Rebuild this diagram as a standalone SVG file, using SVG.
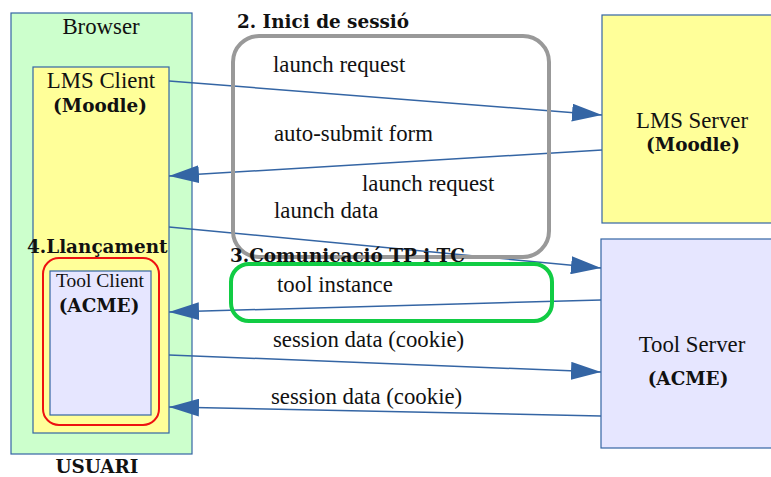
<svg xmlns="http://www.w3.org/2000/svg" width="771" height="477" viewBox="0 0 771 477">
<style>
.box{stroke:#3465a4;stroke-width:1.2}
.reg{font-family:"Liberation Serif",serif;font-size:22.8px;fill:#111}
.small{font-family:"Liberation Serif",serif;font-size:19.5px;fill:#111}
.bold{font-family:"DejaVu Serif",serif;font-weight:bold;font-size:18.4px;fill:#111}
.conn{stroke:#3465a4;stroke-width:1.5;fill:none;marker-end:url(#ah)}
</style>
<defs>
<marker id="ah" markerUnits="userSpaceOnUse" markerWidth="30" markerHeight="18" refX="30" refY="9" orient="auto">
<path d="M0,0 L30,9 L0,18 z" fill="#3465a4"/>
</marker>
</defs>
<rect width="771" height="477" fill="#ffffff"/>
<g id="browser">
<rect class="box" x="11" y="13" width="181" height="441" fill="#ccffcc"/>
<text class="reg" x="101" y="34" text-anchor="middle">Browser</text>
<text class="bold" x="97" y="473" text-anchor="middle">USUARI</text>
</g>
<g id="lms-client">
<rect class="box" x="33" y="67" width="136" height="366" fill="#ffff99"/>
<text class="reg" x="101" y="88" text-anchor="middle">LMS Client</text>
<text class="bold" x="100" y="112" text-anchor="middle">(Moodle)</text>
</g>
<g id="tool-client">
<rect class="box" x="50" y="271" width="101" height="144" fill="#e6e6ff"/>
<text class="small" x="100" y="287" text-anchor="middle">Tool Client</text>
<text class="bold" x="99" y="312" text-anchor="middle">(ACME)</text>
</g>
<g id="launch-group">
<rect x="43" y="258" width="116" height="167" rx="16" fill="none" stroke="#ee1111" stroke-width="2"/>
<text class="bold" x="27" y="253">4.Llançament</text>
</g>
<g id="lms-server">
<rect class="box" x="602" y="15" width="175" height="208" fill="#ffff99"/>
<text class="reg" x="692" y="128" text-anchor="middle">LMS Server</text>
<text class="bold" x="693" y="151" text-anchor="middle">(Moodle)</text>
</g>
<g id="tool-server">
<rect class="box" x="601" y="239" width="176" height="209" fill="#e6e6ff"/>
<text class="reg" x="692" y="352" text-anchor="middle">Tool Server</text>
<text class="bold" x="688" y="385" text-anchor="middle">(ACME)</text>
</g>
<g id="connectors">
<line class="conn" x1="169" y1="81" x2="602" y2="115"/>
<line class="conn" x1="602" y1="150" x2="169" y2="176"/>
<line class="conn" x1="169" y1="227" x2="601" y2="268"/>
<line class="conn" x1="601" y1="300" x2="169" y2="312"/>
<line class="conn" x1="169" y1="355" x2="601" y2="372"/>
<line class="conn" x1="601" y1="416" x2="169" y2="407"/>
</g>
<g id="session-start">
<rect x="233" y="36" width="316" height="221" rx="26" fill="none" stroke="#999999" stroke-width="4"/>
<text class="bold" x="237" y="28">2. Inici de sessió</text>
</g>
<g id="tp-tc">
<rect x="231" y="264" width="321" height="57" rx="18" fill="none" stroke="#11cc44" stroke-width="4"/>
<text class="bold" x="230" y="262">3.Comunicació TP i TC</text>
</g>
<g id="labels">
<text class="reg" x="273" y="72">launch request</text>
<text class="reg" x="274" y="141">auto-submit form</text>
<text class="reg" x="362" y="191">launch request</text>
<text class="reg" x="274" y="218">launch data</text>
<text class="reg" x="277" y="292">tool instance</text>
<text class="reg" x="273" y="347">session data (cookie)</text>
<text class="reg" x="271" y="404">session data (cookie)</text>
</g>
</svg>
